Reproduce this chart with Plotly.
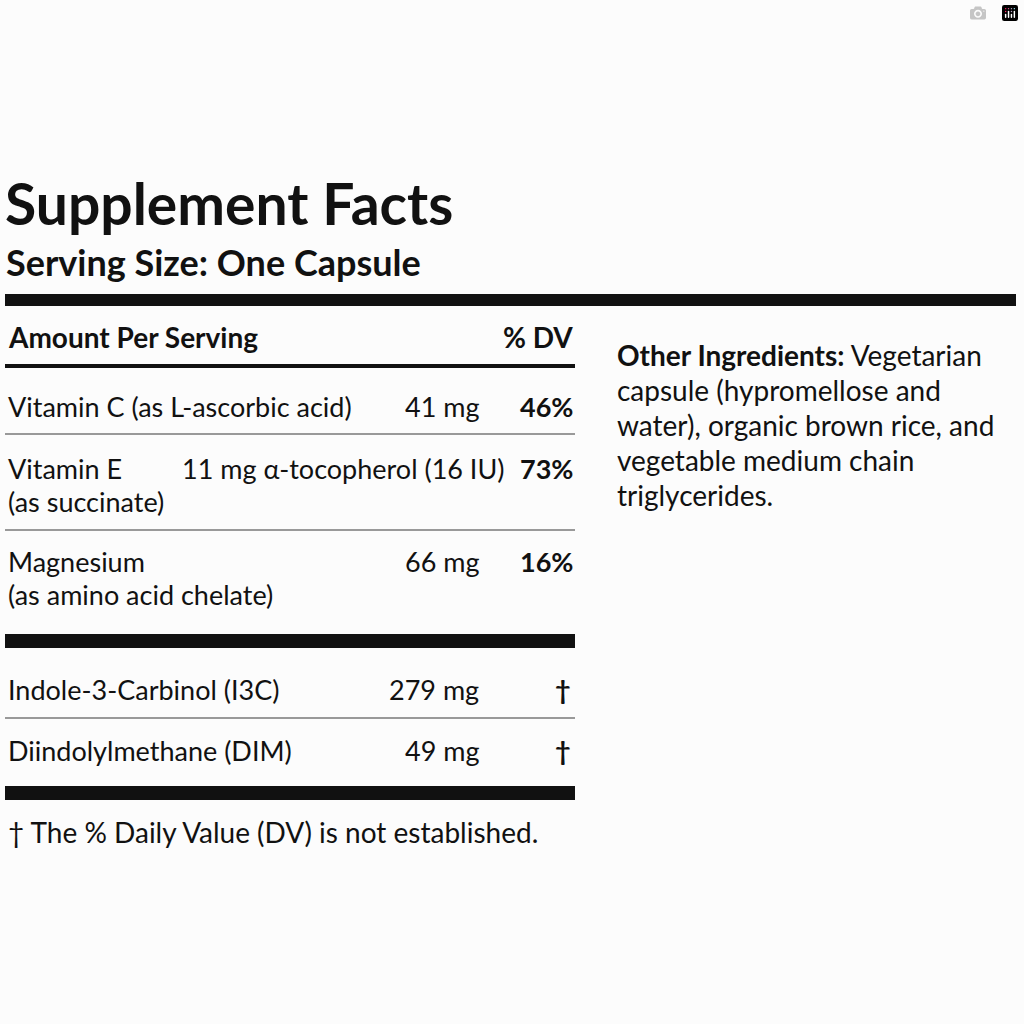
import plotly.graph_objects as go

title = "Supplement Facts"
serving = "Serving Size: One Capsule"
nutrients = ["Vitamin C (as L-ascorbic acid)", "Vitamin E", "Magnesium"]
sublines = ["", "(as succinate)", "(as amino acid chelate)"]
amounts = ["41 mg", "11 mg α-tocopherol (16 IU)", "66 mg"]
dv = ["46%", "73%", "16%"]
row_y = [406, 468, 561]
other = ["Indole-3-Carbinol (I3C)", "Diindolylmethane (DIM)"]
other_amt = ["279 mg", "49 mg"]
other_y = [689, 750]
ingredients = ["<b>Other Ingredients:</b> Vegetarian", "capsule (hypromellose and",
               "water), organic brown rice, and", "vegetable medium chain", "triglycerides."]
footnote = "† The % Daily Value (DV) is not established."

F = "Lato, Noto Sans, sans-serif"
C = "#111111"
S = 27
fig = go.Figure()
ann = []
def t(x, y, s, size, anchor="left", bold=False):
    ann.append(dict(x=x, y=y, text=(f"<b>{s}</b>" if bold else s), showarrow=False,
                    xanchor=anchor, yanchor="middle", font=dict(family=F, size=size, color=C)))

t(3, 203, title, 57, bold=True)
t(4, 262, serving, 36, bold=True)
t(6, 337, "Amount Per Serving", 28, bold=True)
t(575, 337, "% DV", 28, "right", bold=True)
for i, n in enumerate(nutrients):
    t(6, row_y[i], n, S)
    if sublines[i]:
        t(6, row_y[i] + 33, sublines[i], S)
    amt_x = 507 if i == 1 else 481
    t(amt_x, row_y[i], amounts[i], S, "right")
    t(575, row_y[i], dv[i], S, "right", bold=True)
for i, n in enumerate(other):
    t(6, other_y[i], n, S)
    t(481, other_y[i], other_amt[i], S, "right")
    t(573, other_y[i], "<b>†</b>", S, "right")
t(6, 832, footnote, 28)
for i, s in enumerate(ingredients):
    t(615, 355 + i * 35, s, 28)

shapes = []
def bar(y0, y1, x1=575, color=C):
    shapes.append(dict(type="rect", x0=5, x1=x1, y0=y0, y1=y1, line_width=0, fillcolor=color))
bar(294, 306, 1016)
bar(364, 368)
bar(433, 435, color="#999999")
bar(529, 531, color="#999999")
bar(634, 648)
bar(717, 719, color="#999999")
bar(786, 800)

fig.update_layout(width=1024, height=1024, margin=dict(l=0, r=0, t=0, b=0),
                  paper_bgcolor="#fcfcfc", plot_bgcolor="#fcfcfc",
                  xaxis=dict(range=[0, 1024], visible=False, fixedrange=True),
                  yaxis=dict(range=[1024, 0], visible=False, fixedrange=True),
                  annotations=ann, shapes=shapes, showlegend=False)
fig.write_html("out.html", post_script="document.body.style.margin='0';document.body.style.overflow='hidden';")
